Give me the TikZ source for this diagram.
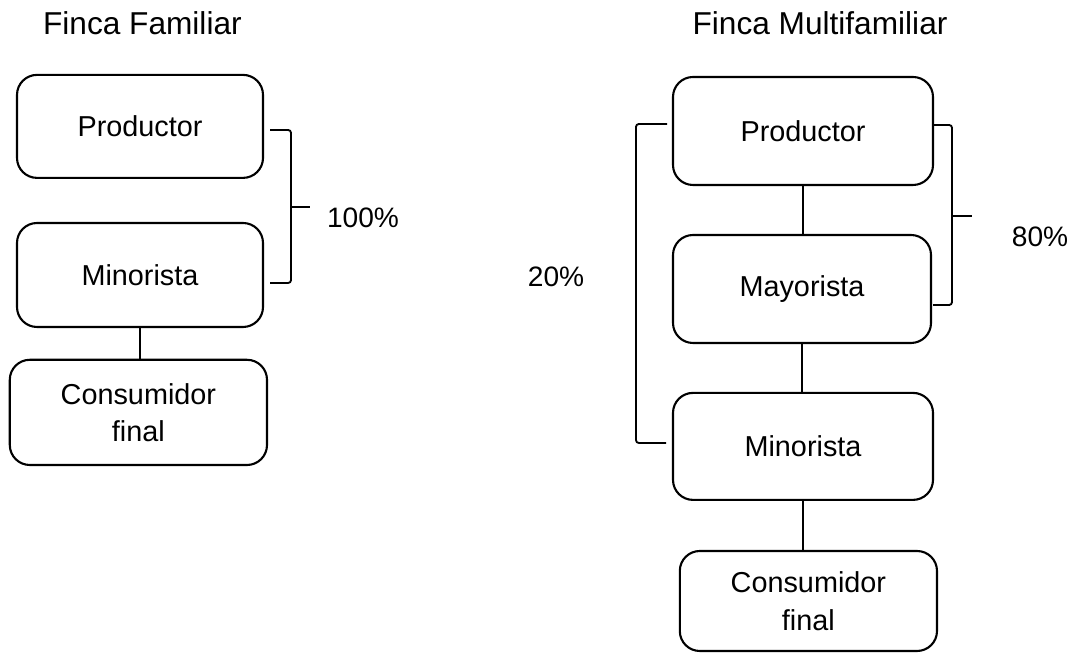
\documentclass[tikz,border=0pt]{standalone}
\usepackage{fontspec}
\setmainfont{Liberation Sans}
\usetikzlibrary{positioning, calc}
\tikzset{
	caja/.style={draw, rectangle, rounded corners=0.5cm, line width=1.5pt, align=center, font=\fontsize{20.5}{26.5}\selectfont},
	titulo/.style={anchor=base, font=\fontsize{22.5}{27}\selectfont},
	pct/.style={font=\fontsize{20}{24}\selectfont},
	llave/.style={line width=1.3pt, rounded corners=2pt},
}

\begin{document}
\begin{tikzpicture}
	\useasboundingbox (0, 0) rectangle (26.85, 16.35);

	% Finca familiar
	\node[titulo] (tit1) at (3.56, 15.475) {Finca Familiar};
	\node[caja, minimum width=61.5mm, minimum height=25.75mm] (prod1) at (3.5, 13.19) {Productor};
	\node[caja, minimum width=61.5mm, minimum height=26mm] (min1) at (3.5, 9.475) {Minorista};
	\node[caja, minimum width=64.3mm, minimum height=26.3mm, text depth=-3mm] (cons1) at (3.46, 6.04) {Consumidor\\final};
	\draw[line width=1.3pt] (min1.south) -- (min1.south |- cons1.north);

	\coordinate (b1a) at (6.75, 13.1);
	\coordinate (b1b) at (6.75, 9.275);
	\coordinate (b1t) at (7.75, 11.175);
	\draw[llave] (b1a) -- (7.275, 13.1) -- (7.275, 9.275) -- (b1b);
	\draw[line width=1.3pt] (7.275, 11.175) -- (b1t);
	\node[pct] (p100) at (9.075, 10.9) {100\%};

	% Finca multifamiliar
	\node[titulo] (tit2) at (20.5, 15.475) {Finca Multifamiliar};
	\node[caja, minimum width=65mm, minimum height=27mm] (prod2) at (20.075, 13.075) {Productor};
	\node[caja, minimum width=64.5mm, minimum height=27mm] (may2) at (20.05, 9.125) {Mayorista};
	\node[caja, minimum width=65mm, minimum height=26.75mm] (min2) at (20.075, 5.19) {Minorista};
	\node[caja, minimum width=64.3mm, minimum height=25mm, text depth=-3mm] (cons2) at (20.21, 1.325) {Consumidor\\final};
	\draw[line width=1.3pt] (prod2.south) -- (prod2.south |- may2.north);
	\draw[line width=1.3pt] (may2.south) -- (may2.south |- min2.north);
	\draw[line width=1.3pt] (min2.south) -- (min2.south |- cons2.north);

	\coordinate (b2a) at (16.675, 13.25);
	\coordinate (b2b) at (16.65, 5.275);
	\draw[llave] (b2a) -- (15.9, 13.25) -- (15.9, 5.275) -- (b2b);
	\node[pct] (p20) at (13.9, 9.425) {20\%};

	\coordinate (b3a) at (23.325, 13.225);
	\coordinate (b3b) at (23.325, 8.725);
	\coordinate (b3t) at (24.3, 10.95);
	\draw[llave] (b3a) -- (23.8, 13.225) -- (23.8, 8.725) -- (b3b);
	\draw[line width=1.3pt] (23.8, 10.95) -- (b3t);
	\node[pct] (p80) at (26.0, 10.425) {80\%};
\end{tikzpicture}
\end{document}
